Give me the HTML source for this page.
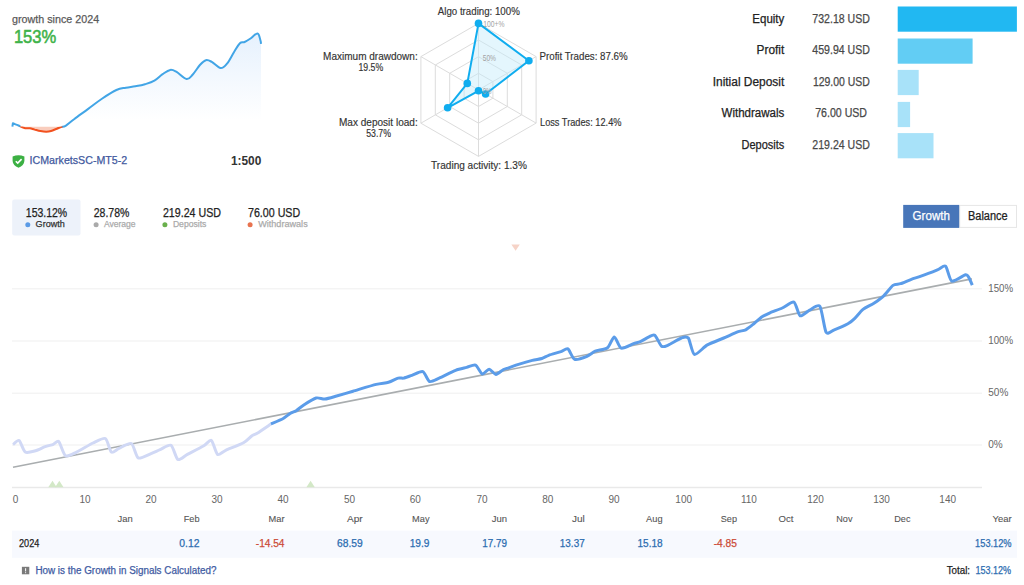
<!DOCTYPE html>
<html><head><meta charset="utf-8"><title>Signal growth</title>
<style>html,body{margin:0;padding:0;background:#fff;width:1024px;height:585px;overflow:hidden}svg{display:block}</style>
</head><body>
<svg width="1024" height="585" viewBox="0 0 1024 585" font-family="&quot;Liberation Sans&quot;, sans-serif">
<defs><linearGradient id="mg" gradientUnits="userSpaceOnUse" x1="0" y1="33" x2="0" y2="120"><stop offset="0" stop-color="#e6f1fd"/><stop offset="1" stop-color="#ffffff"/></linearGradient><clipPath id="redclip"><rect x="19.5" y="126.4" width="43" height="10"/></clipPath><clipPath id="blueclipA"><rect x="0" y="0" width="20.6" height="200"/><rect x="61.5" y="0" width="220" height="200"/></clipPath><clipPath id="fillclip"><rect x="61.5" y="20" width="220" height="106.4"/></clipPath></defs>
<path d="M12.90,123.20 C13.01,123.25 12.76,123.19 13.50,123.50 C14.24,123.81 15.74,124.38 17.00,124.90 C18.26,125.42 19.02,125.81 20.50,126.40 C21.98,126.99 23.51,127.86 25.20,128.20 C26.89,128.54 28.21,128.05 29.90,128.30 C31.59,128.55 32.69,129.10 34.60,129.60 C36.51,130.10 38.39,130.72 40.50,131.10 C42.61,131.48 44.41,131.72 46.30,131.70 C48.19,131.68 49.09,131.54 51.00,131.00 C52.91,130.46 54.99,129.44 56.90,128.70 C58.81,127.96 60.03,127.42 61.60,126.90 C63.17,126.38 63.35,127.19 65.60,125.80 C67.85,124.41 70.03,122.24 74.10,119.20 C78.17,116.16 83.12,112.63 88.20,108.90 C93.28,105.17 97.22,101.90 102.30,98.50 C107.38,95.10 112.15,91.94 116.40,90.00 C120.65,88.06 122.50,88.37 125.90,87.70 C129.30,87.03 131.86,86.93 135.30,86.30 C138.74,85.67 141.56,85.21 145.00,84.20 C148.44,83.19 151.23,82.50 154.40,80.70 C157.57,78.90 159.76,76.14 162.60,74.20 C165.44,72.26 167.68,70.31 170.20,69.90 C172.72,69.49 173.65,70.28 176.60,71.90 C179.55,73.52 183.65,78.49 186.60,78.90 C189.55,79.31 190.57,76.74 193.00,74.20 C195.43,71.66 197.78,67.32 200.10,64.80 C202.42,62.28 203.79,60.72 205.90,60.20 C208.01,59.68 209.15,60.48 211.80,61.90 C214.45,63.32 217.86,67.78 220.60,68.10 C223.34,68.42 224.57,66.60 227.00,63.70 C229.43,60.80 231.78,55.69 234.10,52.00 C236.42,48.31 238.01,45.00 239.90,43.20 C241.79,41.40 242.69,42.85 244.60,42.00 C246.51,41.15 248.18,40.05 250.50,38.50 C252.82,36.95 255.72,33.09 257.50,33.40 C259.28,33.71 259.77,38.33 260.40,40.20 C261.03,42.07 260.89,43.15 261.00,43.80 L261,126.4 L12.3,126.4 Z" fill="url(#mg)" clip-path="url(#fillclip)"/>
<path d="M12.90,123.20 C13.01,123.25 12.76,123.19 13.50,123.50 C14.24,123.81 15.74,124.38 17.00,124.90 C18.26,125.42 19.02,125.81 20.50,126.40 C21.98,126.99 23.51,127.86 25.20,128.20 C26.89,128.54 28.21,128.05 29.90,128.30 C31.59,128.55 32.69,129.10 34.60,129.60 C36.51,130.10 38.39,130.72 40.50,131.10 C42.61,131.48 44.41,131.72 46.30,131.70 C48.19,131.68 49.09,131.54 51.00,131.00 C52.91,130.46 54.99,129.44 56.90,128.70 C58.81,127.96 60.03,127.42 61.60,126.90 C63.17,126.38 63.35,127.19 65.60,125.80 C67.85,124.41 70.03,122.24 74.10,119.20 C78.17,116.16 83.12,112.63 88.20,108.90 C93.28,105.17 97.22,101.90 102.30,98.50 C107.38,95.10 112.15,91.94 116.40,90.00 C120.65,88.06 122.50,88.37 125.90,87.70 C129.30,87.03 131.86,86.93 135.30,86.30 C138.74,85.67 141.56,85.21 145.00,84.20 C148.44,83.19 151.23,82.50 154.40,80.70 C157.57,78.90 159.76,76.14 162.60,74.20 C165.44,72.26 167.68,70.31 170.20,69.90 C172.72,69.49 173.65,70.28 176.60,71.90 C179.55,73.52 183.65,78.49 186.60,78.90 C189.55,79.31 190.57,76.74 193.00,74.20 C195.43,71.66 197.78,67.32 200.10,64.80 C202.42,62.28 203.79,60.72 205.90,60.20 C208.01,59.68 209.15,60.48 211.80,61.90 C214.45,63.32 217.86,67.78 220.60,68.10 C223.34,68.42 224.57,66.60 227.00,63.70 C229.43,60.80 231.78,55.69 234.10,52.00 C236.42,48.31 238.01,45.00 239.90,43.20 C241.79,41.40 242.69,42.85 244.60,42.00 C246.51,41.15 248.18,40.05 250.50,38.50 C252.82,36.95 255.72,33.09 257.50,33.40 C259.28,33.71 259.77,38.33 260.40,40.20 C261.03,42.07 260.89,43.15 261.00,43.80 L261,126.4 L12.3,126.4 Z" fill="#f9cdbd" clip-path="url(#redclip)"/>
<path d="M12.4,126.6 L12.9,123.2 12.90,123.20 C13.01,123.25 12.76,123.19 13.50,123.50 C14.24,123.81 15.74,124.38 17.00,124.90 C18.26,125.42 19.02,125.81 20.50,126.40 C21.98,126.99 23.51,127.86 25.20,128.20 C26.89,128.54 28.21,128.05 29.90,128.30 C31.59,128.55 32.69,129.10 34.60,129.60 C36.51,130.10 38.39,130.72 40.50,131.10 C42.61,131.48 44.41,131.72 46.30,131.70 C48.19,131.68 49.09,131.54 51.00,131.00 C52.91,130.46 54.99,129.44 56.90,128.70 C58.81,127.96 60.03,127.42 61.60,126.90 C63.17,126.38 63.35,127.19 65.60,125.80 C67.85,124.41 70.03,122.24 74.10,119.20 C78.17,116.16 83.12,112.63 88.20,108.90 C93.28,105.17 97.22,101.90 102.30,98.50 C107.38,95.10 112.15,91.94 116.40,90.00 C120.65,88.06 122.50,88.37 125.90,87.70 C129.30,87.03 131.86,86.93 135.30,86.30 C138.74,85.67 141.56,85.21 145.00,84.20 C148.44,83.19 151.23,82.50 154.40,80.70 C157.57,78.90 159.76,76.14 162.60,74.20 C165.44,72.26 167.68,70.31 170.20,69.90 C172.72,69.49 173.65,70.28 176.60,71.90 C179.55,73.52 183.65,78.49 186.60,78.90 C189.55,79.31 190.57,76.74 193.00,74.20 C195.43,71.66 197.78,67.32 200.10,64.80 C202.42,62.28 203.79,60.72 205.90,60.20 C208.01,59.68 209.15,60.48 211.80,61.90 C214.45,63.32 217.86,67.78 220.60,68.10 C223.34,68.42 224.57,66.60 227.00,63.70 C229.43,60.80 231.78,55.69 234.10,52.00 C236.42,48.31 238.01,45.00 239.90,43.20 C241.79,41.40 242.69,42.85 244.60,42.00 C246.51,41.15 248.18,40.05 250.50,38.50 C252.82,36.95 255.72,33.09 257.50,33.40 C259.28,33.71 259.77,38.33 260.40,40.20 C261.03,42.07 260.89,43.15 261.00,43.80" fill="none" stroke="#42a5e6" stroke-width="2" clip-path="url(#blueclipA)" stroke-linejoin="round"/>
<path d="M12.90,123.20 C13.01,123.25 12.76,123.19 13.50,123.50 C14.24,123.81 15.74,124.38 17.00,124.90 C18.26,125.42 19.02,125.81 20.50,126.40 C21.98,126.99 23.51,127.86 25.20,128.20 C26.89,128.54 28.21,128.05 29.90,128.30 C31.59,128.55 32.69,129.10 34.60,129.60 C36.51,130.10 38.39,130.72 40.50,131.10 C42.61,131.48 44.41,131.72 46.30,131.70 C48.19,131.68 49.09,131.54 51.00,131.00 C52.91,130.46 54.99,129.44 56.90,128.70 C58.81,127.96 60.03,127.42 61.60,126.90 C63.17,126.38 63.35,127.19 65.60,125.80 C67.85,124.41 70.03,122.24 74.10,119.20 C78.17,116.16 83.12,112.63 88.20,108.90 C93.28,105.17 97.22,101.90 102.30,98.50 C107.38,95.10 112.15,91.94 116.40,90.00 C120.65,88.06 122.50,88.37 125.90,87.70 C129.30,87.03 131.86,86.93 135.30,86.30 C138.74,85.67 141.56,85.21 145.00,84.20 C148.44,83.19 151.23,82.50 154.40,80.70 C157.57,78.90 159.76,76.14 162.60,74.20 C165.44,72.26 167.68,70.31 170.20,69.90 C172.72,69.49 173.65,70.28 176.60,71.90 C179.55,73.52 183.65,78.49 186.60,78.90 C189.55,79.31 190.57,76.74 193.00,74.20 C195.43,71.66 197.78,67.32 200.10,64.80 C202.42,62.28 203.79,60.72 205.90,60.20 C208.01,59.68 209.15,60.48 211.80,61.90 C214.45,63.32 217.86,67.78 220.60,68.10 C223.34,68.42 224.57,66.60 227.00,63.70 C229.43,60.80 231.78,55.69 234.10,52.00 C236.42,48.31 238.01,45.00 239.90,43.20 C241.79,41.40 242.69,42.85 244.60,42.00 C246.51,41.15 248.18,40.05 250.50,38.50 C252.82,36.95 255.72,33.09 257.50,33.40 C259.28,33.71 259.77,38.33 260.40,40.20 C261.03,42.07 260.89,43.15 261.00,43.80" fill="none" stroke="#f2511f" stroke-width="2" clip-path="url(#redclip)"/>
<text x="12.1" y="22.8" font-size="11" fill="#5a5a5a" text-anchor="start" font-weight="normal" textLength="87" lengthAdjust="spacingAndGlyphs" stroke="#5a5a5a" stroke-width="0.25">growth since 2024</text>
<text x="13.9" y="43.1" font-size="18" fill="#3fb34a" text-anchor="start" font-weight="normal" textLength="42.4" lengthAdjust="spacingAndGlyphs" stroke="#3fb34a" stroke-width="0.55">153%</text>
<path d="M12.6,156.4 Q18.5,154.0 24.4,156.4 L24.4,161 Q24,165.6 18.5,167.8 Q13,165.6 12.6,161 Z" fill="#3cb043"/>
<path d="M15.8,161.2 L17.7,163.1 L21.6,159.1" fill="none" stroke="#fff" stroke-width="1.6"/>
<text x="29.6" y="164.1" font-size="11" fill="#41599e" text-anchor="start" font-weight="normal" textLength="97.6" lengthAdjust="spacingAndGlyphs" stroke="#41599e" stroke-width="0.25">ICMarketsSC-MT5-2</text>
<text x="230.9" y="164.9" font-size="12" fill="#333" text-anchor="start" font-weight="bold" textLength="30.4" lengthAdjust="spacingAndGlyphs">1:500</text>
<polygon points="478.5,73.3 492.9,81.6 492.9,98.2 478.5,106.5 464.1,98.2 464.1,81.6" fill="none" stroke="#dcdcdc" stroke-width="1"/>
<polygon points="478.5,56.7 507.3,73.3 507.3,106.5 478.5,123.2 449.7,106.5 449.7,73.3" fill="none" stroke="#dcdcdc" stroke-width="1"/>
<polygon points="478.5,40.0 521.7,65.0 521.7,114.8 478.5,139.8 435.3,114.8 435.3,65.0" fill="none" stroke="#dcdcdc" stroke-width="1"/>
<polygon points="478.5,23.4 536.1,56.6 536.1,123.1 478.5,156.4 420.9,123.2 420.9,56.6" fill="none" stroke="#dcdcdc" stroke-width="1"/>
<line x1="478.5" y1="89.9" x2="478.5" y2="23.4" stroke="#dcdcdc" stroke-width="1"/>
<line x1="478.5" y1="89.9" x2="536.1" y2="56.6" stroke="#dcdcdc" stroke-width="1"/>
<line x1="478.5" y1="89.9" x2="536.1" y2="123.1" stroke="#dcdcdc" stroke-width="1"/>
<line x1="478.5" y1="89.9" x2="478.5" y2="156.4" stroke="#dcdcdc" stroke-width="1"/>
<line x1="478.5" y1="89.9" x2="420.9" y2="123.2" stroke="#dcdcdc" stroke-width="1"/>
<line x1="478.5" y1="89.9" x2="420.9" y2="56.6" stroke="#dcdcdc" stroke-width="1"/>
<polygon points="478.5,23.4 528.9,60.8 485.6,94.0 478.5,90.8 447.6,107.8 467.3,83.4" fill="#c4ebfa" fill-opacity="0.45" stroke="#10adef" stroke-width="2" stroke-linejoin="round"/>
<circle cx="478.5" cy="23.4" r="3.8" fill="#10adef"/>
<circle cx="528.9" cy="60.8" r="3.8" fill="#10adef"/>
<circle cx="485.6" cy="94.0" r="3.8" fill="#10adef"/>
<circle cx="478.5" cy="90.8" r="3.8" fill="#10adef"/>
<circle cx="447.6" cy="107.8" r="3.8" fill="#10adef"/>
<circle cx="467.3" cy="83.4" r="3.8" fill="#10adef"/>
<text x="483.3" y="27.1" font-size="8.6" fill="#a3a3a3" text-anchor="start" font-weight="normal" textLength="21.3" lengthAdjust="spacingAndGlyphs">100+%</text>
<text x="482.7" y="60.8" font-size="8.6" fill="#a3a3a3" text-anchor="start" font-weight="normal" textLength="13.3" lengthAdjust="spacingAndGlyphs">50%</text>
<text x="482.7" y="94.1" font-size="8.6" fill="#a3a3a3" text-anchor="start" font-weight="normal" textLength="8.9" lengthAdjust="spacingAndGlyphs">0%</text>
<text x="437.8" y="15" font-size="10" fill="#333" text-anchor="start" font-weight="normal" textLength="82" lengthAdjust="spacingAndGlyphs" stroke="#333" stroke-width="0.15">Algo trading: 100%</text>
<text x="539.5" y="59.6" font-size="10" fill="#333" text-anchor="start" font-weight="normal" textLength="88.2" lengthAdjust="spacingAndGlyphs" stroke="#333" stroke-width="0.15">Profit Trades: 87.6%</text>
<text x="540" y="126.1" font-size="10" fill="#333" text-anchor="start" font-weight="normal" textLength="81.5" lengthAdjust="spacingAndGlyphs" stroke="#333" stroke-width="0.15">Loss Trades: 12.4%</text>
<text x="431.1" y="168.5" font-size="10" fill="#333" text-anchor="start" font-weight="normal" textLength="95.8" lengthAdjust="spacingAndGlyphs" stroke="#333" stroke-width="0.15">Trading activity: 1.3%</text>
<text x="323.1" y="60" font-size="10" fill="#333" text-anchor="start" font-weight="normal" textLength="94.6" lengthAdjust="spacingAndGlyphs" stroke="#333" stroke-width="0.15">Maximum drawdown:</text>
<text x="358.5" y="71" font-size="10" fill="#333" text-anchor="start" font-weight="normal" textLength="24.7" lengthAdjust="spacingAndGlyphs" stroke="#333" stroke-width="0.15">19.5%</text>
<text x="339" y="126.2" font-size="10" fill="#333" text-anchor="start" font-weight="normal" textLength="78.7" lengthAdjust="spacingAndGlyphs" stroke="#333" stroke-width="0.15">Max deposit load:</text>
<text x="366.2" y="137.3" font-size="10" fill="#333" text-anchor="start" font-weight="normal" textLength="24.8" lengthAdjust="spacingAndGlyphs" stroke="#333" stroke-width="0.15">53.7%</text>
<text x="752.3" y="22.8" font-size="12" fill="#222" text-anchor="start" font-weight="normal" textLength="32.0" lengthAdjust="spacingAndGlyphs" stroke="#222" stroke-width="0.25">Equity</text>
<text x="812.3" y="22.8" font-size="12" fill="#484848" text-anchor="start" font-weight="normal" textLength="57.6" lengthAdjust="spacingAndGlyphs" stroke="#484848" stroke-width="0.25">732.18 USD</text>
<rect x="897.7" y="6.5" width="119.2" height="25.2" fill="#21b8f2"/>
<text x="756.6" y="53.8" font-size="12" fill="#222" text-anchor="start" font-weight="normal" textLength="27.7" lengthAdjust="spacingAndGlyphs" stroke="#222" stroke-width="0.25">Profit</text>
<text x="812.3" y="53.8" font-size="12" fill="#484848" text-anchor="start" font-weight="normal" textLength="57.6" lengthAdjust="spacingAndGlyphs" stroke="#484848" stroke-width="0.25">459.94 USD</text>
<rect x="897.7" y="38.5" width="74.9" height="25.2" fill="#62cdf4"/>
<text x="712.7" y="85.9" font-size="12" fill="#222" text-anchor="start" font-weight="normal" textLength="71.6" lengthAdjust="spacingAndGlyphs" stroke="#222" stroke-width="0.25">Initial Deposit</text>
<text x="812.9" y="85.9" font-size="12" fill="#484848" text-anchor="start" font-weight="normal" textLength="57.0" lengthAdjust="spacingAndGlyphs" stroke="#484848" stroke-width="0.25">129.00 USD</text>
<rect x="897.7" y="69.9" width="21.0" height="25.2" fill="#a8e2f9"/>
<text x="721.5" y="116.9" font-size="12" fill="#222" text-anchor="start" font-weight="normal" textLength="62.8" lengthAdjust="spacingAndGlyphs" stroke="#222" stroke-width="0.25">Withdrawals</text>
<text x="815.2" y="116.9" font-size="12" fill="#484848" text-anchor="start" font-weight="normal" textLength="51.8" lengthAdjust="spacingAndGlyphs" stroke="#484848" stroke-width="0.25">76.00 USD</text>
<rect x="897.7" y="101.9" width="12.4" height="25.2" fill="#a8e2f9"/>
<text x="741.6" y="148.9" font-size="12" fill="#222" text-anchor="start" font-weight="normal" textLength="42.7" lengthAdjust="spacingAndGlyphs" stroke="#222" stroke-width="0.25">Deposits</text>
<text x="812.3" y="148.9" font-size="12" fill="#484848" text-anchor="start" font-weight="normal" textLength="57.6" lengthAdjust="spacingAndGlyphs" stroke="#484848" stroke-width="0.25">219.24 USD</text>
<rect x="897.7" y="133.1" width="35.8" height="25.2" fill="#a8e2f9"/>
<rect x="12.2" y="199.4" width="68.3" height="36.2" rx="2" fill="#edf2fa"/>
<text x="25.8" y="216.9" font-size="12.3" fill="#222" text-anchor="start" font-weight="normal" textLength="41.4" lengthAdjust="spacingAndGlyphs" stroke="#222" stroke-width="0.25">153.12%</text>
<circle cx="27.8" cy="224.8" r="2.5" fill="#5b9be6"/>
<text x="35.6" y="227.4" font-size="9.5" fill="#333" text-anchor="start" font-weight="normal" textLength="29.2" lengthAdjust="spacingAndGlyphs" stroke="#333" stroke-width="0.25">Growth</text>
<text x="93.75" y="216.9" font-size="12.3" fill="#222" text-anchor="start" font-weight="normal" textLength="35.6" lengthAdjust="spacingAndGlyphs" stroke="#222" stroke-width="0.25">28.78%</text>
<circle cx="96.1" cy="224.8" r="2.5" fill="#aaaaaa"/>
<text x="103.9" y="227.4" font-size="9.5" fill="#aaa" text-anchor="start" font-weight="normal" textLength="31.7" lengthAdjust="spacingAndGlyphs" stroke="#aaa" stroke-width="0.25">Average</text>
<text x="162.9" y="216.9" font-size="12.3" fill="#222" text-anchor="start" font-weight="normal" textLength="58.1" lengthAdjust="spacingAndGlyphs" stroke="#222" stroke-width="0.25">219.24 USD</text>
<circle cx="164.9" cy="224.8" r="2.5" fill="#6ab04c"/>
<text x="172.9" y="227.4" font-size="9.5" fill="#aaa" text-anchor="start" font-weight="normal" textLength="33.5" lengthAdjust="spacingAndGlyphs" stroke="#aaa" stroke-width="0.25">Deposits</text>
<text x="248" y="216.9" font-size="12.3" fill="#222" text-anchor="start" font-weight="normal" textLength="52.2" lengthAdjust="spacingAndGlyphs" stroke="#222" stroke-width="0.25">76.00 USD</text>
<circle cx="250.1" cy="224.8" r="2.5" fill="#e8734f"/>
<text x="258.2" y="227.4" font-size="9.5" fill="#aaa" text-anchor="start" font-weight="normal" textLength="49.5" lengthAdjust="spacingAndGlyphs" stroke="#aaa" stroke-width="0.25">Withdrawals</text>
<rect x="959.7" y="205.4" width="56.8" height="22" fill="#fff" stroke="#e6e6e6" stroke-width="1"/>
<rect x="903.2" y="204.9" width="56" height="23" fill="#4876b9"/>
<text x="912.6" y="220" font-size="12" fill="#fff" text-anchor="start" font-weight="normal" textLength="37.4" lengthAdjust="spacingAndGlyphs" stroke="#fff" stroke-width="0.25">Growth</text>
<text x="968" y="220" font-size="12" fill="#222" text-anchor="start" font-weight="normal" textLength="39.7" lengthAdjust="spacingAndGlyphs" stroke="#222" stroke-width="0.25">Balance</text>
<line x1="12" y1="288.8" x2="982" y2="288.8" stroke="#efefef" stroke-width="1"/>
<line x1="12" y1="341" x2="982" y2="341" stroke="#efefef" stroke-width="1"/>
<line x1="12" y1="393.2" x2="982" y2="393.2" stroke="#efefef" stroke-width="1"/>
<line x1="12" y1="445" x2="982" y2="445" stroke="#efefef" stroke-width="1"/>
<line x1="12" y1="487.5" x2="982" y2="487.5" stroke="#e9e9e9" stroke-width="1.3"/>
<text x="988.3" y="291.6" font-size="10" fill="#666" text-anchor="start" font-weight="normal" textLength="24.8" lengthAdjust="spacingAndGlyphs">150%</text>
<text x="988.3" y="343.8" font-size="10" fill="#666" text-anchor="start" font-weight="normal" textLength="24.8" lengthAdjust="spacingAndGlyphs">100%</text>
<text x="988.3" y="396.0" font-size="10" fill="#666" text-anchor="start" font-weight="normal">50%</text>
<text x="988.3" y="447.8" font-size="10" fill="#666" text-anchor="start" font-weight="normal">0%</text>
<text x="15.6" y="502.9" font-size="10" fill="#666" text-anchor="middle" font-weight="normal">0</text>
<text x="85" y="502.9" font-size="10" fill="#666" text-anchor="middle" font-weight="normal">10</text>
<text x="151" y="502.9" font-size="10" fill="#666" text-anchor="middle" font-weight="normal">20</text>
<text x="217.1" y="502.9" font-size="10" fill="#666" text-anchor="middle" font-weight="normal">30</text>
<text x="283.1" y="502.9" font-size="10" fill="#666" text-anchor="middle" font-weight="normal">40</text>
<text x="349.5" y="502.9" font-size="10" fill="#666" text-anchor="middle" font-weight="normal">50</text>
<text x="415.3" y="502.9" font-size="10" fill="#666" text-anchor="middle" font-weight="normal">60</text>
<text x="482.1" y="502.9" font-size="10" fill="#666" text-anchor="middle" font-weight="normal">70</text>
<text x="547.8" y="502.9" font-size="10" fill="#666" text-anchor="middle" font-weight="normal">80</text>
<text x="614" y="502.9" font-size="10" fill="#666" text-anchor="middle" font-weight="normal">90</text>
<text x="683.7" y="502.9" font-size="10" fill="#666" text-anchor="middle" font-weight="normal">100</text>
<text x="748.9" y="502.9" font-size="10" fill="#666" text-anchor="middle" font-weight="normal">110</text>
<text x="815.5" y="502.9" font-size="10" fill="#666" text-anchor="middle" font-weight="normal">120</text>
<text x="881.6" y="502.9" font-size="10" fill="#666" text-anchor="middle" font-weight="normal">130</text>
<text x="947.7" y="502.9" font-size="10" fill="#666" text-anchor="middle" font-weight="normal">140</text>
<polygon points="48.3,487.2 56.7,487.2 52.5,480.7" fill="#d3e8c7"/>
<polygon points="55.099999999999994,487.2 63.5,487.2 59.3,480.7" fill="#d3e8c7"/>
<polygon points="306.40000000000003,487.2 314.8,487.2 310.6,480.7" fill="#d3e8c7"/>
<polygon points="511.4,244.6 519.8,244.6 515.6,250.8" fill="#f6d3c7"/>
<line x1="13" y1="467.2" x2="971.9" y2="278.9" stroke="#a9adaf" stroke-width="1.6"/>
<path d="M13.00,444.60 C13.73,444.11 17.62,439.60 19.10,440.50 C20.58,441.40 23.33,450.86 25.30,452.10 C27.27,453.34 33.12,451.45 35.50,450.80 C37.88,450.15 42.96,447.48 45.10,446.70 C47.24,445.92 51.66,444.91 53.30,444.30 C54.94,443.69 57.32,440.22 58.80,441.60 C60.28,442.98 63.46,454.54 65.60,455.80 C67.74,457.06 73.31,453.64 76.60,452.10 C79.89,450.56 89.56,444.63 93.00,443.00 C96.44,441.37 103.09,437.41 105.30,438.50 C107.51,439.59 109.76,450.91 111.40,452.10 C113.04,453.29 116.60,449.43 119.00,448.40 C121.40,447.37 129.10,442.36 131.40,443.50 C133.70,444.64 135.91,456.66 138.20,457.90 C140.49,459.14 147.87,454.80 150.50,453.80 C153.13,452.80 157.64,450.62 160.10,449.60 C162.56,448.58 168.86,444.11 171.00,445.30 C173.14,446.49 175.93,458.41 177.90,459.50 C179.87,460.59 184.29,456.04 187.40,454.40 C190.51,452.76 200.92,447.48 203.80,445.80 C206.68,444.12 209.76,439.37 211.40,440.40 C213.04,441.43 215.78,453.21 217.50,454.40 C219.22,455.59 222.58,451.69 225.70,450.30 C228.82,448.91 240.38,444.52 243.50,442.80 C246.62,441.08 250.06,437.15 251.70,436.00 C253.34,434.85 254.90,434.64 257.20,433.20 C259.50,431.76 269.26,425.10 270.90,424.00" fill="none" stroke="#d0d8f5" stroke-width="3" stroke-linejoin="round" stroke-linecap="butt"/>
<path d="M270.90,424.00 C272.38,423.34 280.90,419.76 283.20,418.50 C285.50,417.24 288.54,414.44 290.10,413.50 C291.66,412.56 294.56,411.73 296.20,410.70 C297.84,409.67 301.41,406.42 303.80,404.90 C306.19,403.38 313.57,398.71 316.10,398.00 C318.63,397.29 322.44,399.24 324.90,399.00 C327.36,398.76 333.23,396.94 336.60,396.00 C339.97,395.06 348.25,392.59 353.00,391.20 C357.75,389.81 371.94,385.47 376.20,384.40 C380.46,383.33 385.86,383.06 388.50,382.30 C391.14,381.54 396.38,378.60 398.20,378.10 C400.02,377.60 402.06,378.44 403.70,378.10 C405.34,377.76 409.61,376.08 411.90,375.30 C414.19,374.52 420.68,370.86 422.80,371.60 C424.92,372.34 427.63,380.72 429.60,381.50 C431.57,382.28 436.08,379.44 439.20,378.10 C442.32,376.76 452.31,371.58 455.60,370.30 C458.89,369.02 464.21,368.02 466.60,367.40 C468.99,366.78 473.62,364.31 475.50,365.10 C477.38,365.89 480.67,373.51 482.30,374.00 C483.93,374.49 487.46,369.15 489.10,369.20 C490.74,369.25 494.27,374.36 496.00,374.40 C497.73,374.44 501.95,370.29 503.50,369.50 C505.05,368.71 507.10,368.41 508.90,367.80 C510.70,367.19 515.69,365.29 518.50,364.40 C521.31,363.51 529.49,361.11 532.30,360.40 C535.11,359.69 539.93,359.11 541.90,358.50 C543.87,357.89 546.41,356.13 548.70,355.30 C550.99,354.47 558.70,352.37 561.00,351.60 C563.30,350.83 566.26,347.96 567.90,348.90 C569.54,349.84 572.41,358.50 574.70,359.40 C576.99,360.30 584.54,357.38 587.00,356.40 C589.46,355.42 592.74,352.23 595.20,351.20 C597.66,350.17 605.21,349.52 607.50,347.80 C609.79,346.08 612.66,336.85 614.30,336.90 C615.94,336.95 618.90,347.38 621.20,348.20 C623.50,349.02 631.21,344.48 633.50,343.70 C635.79,342.92 638.50,342.49 640.30,341.70 C642.10,340.91 646.76,337.87 648.50,337.10 C650.24,336.33 653.23,334.21 654.80,335.30 C656.37,336.39 660.04,345.00 661.60,346.20 C663.16,347.40 665.42,346.28 667.80,345.30 C670.18,344.32 678.94,338.88 681.40,338.00 C683.86,337.12 686.74,336.03 688.30,338.00 C689.86,339.97 692.11,353.57 694.40,354.40 C696.69,355.23 703.87,346.87 707.40,344.90 C710.93,342.93 720.19,339.56 723.80,338.00 C727.41,336.44 734.87,332.88 737.50,331.90 C740.13,330.92 743.73,330.78 745.70,329.80 C747.67,328.82 751.93,325.26 753.90,323.70 C755.87,322.14 760.17,318.11 762.10,316.80 C764.03,315.49 767.58,313.86 770.00,312.80 C772.42,311.74 779.43,309.28 782.30,308.00 C785.17,306.72 791.76,301.16 793.90,302.10 C796.04,303.04 798.22,314.84 800.10,315.80 C801.98,316.76 807.22,311.24 809.60,310.10 C811.98,308.96 817.92,303.65 819.90,306.30 C821.88,308.95 824.37,329.37 826.10,332.20 C827.83,335.03 831.68,330.91 834.30,329.90 C836.92,328.89 845.44,325.19 847.90,323.80 C850.36,322.41 852.99,320.03 854.80,318.30 C856.61,316.57 860.71,311.21 863.00,309.40 C865.29,307.59 871.44,304.80 873.90,303.20 C876.36,301.60 881.21,298.24 883.50,296.10 C885.79,293.96 890.96,286.89 893.00,285.40 C895.04,283.91 898.29,284.43 900.50,283.70 C902.71,282.97 908.94,280.20 911.40,279.30 C913.86,278.40 917.88,277.34 921.00,276.20 C924.12,275.06 934.45,271.00 937.40,269.80 C940.35,268.60 943.87,264.86 945.60,266.20 C947.33,267.54 949.41,279.97 951.80,281.00 C954.19,282.03 963.45,275.21 965.50,274.80 C967.55,274.39 968.08,276.36 968.90,277.60 C969.72,278.84 971.89,284.20 972.30,285.10" fill="none" stroke="#5b9ce9" stroke-width="3" stroke-linejoin="round" stroke-linecap="butt"/>
<text x="132.7" y="522.0" font-size="9.8" fill="#555" text-anchor="end" font-weight="normal" textLength="15.2" lengthAdjust="spacingAndGlyphs" stroke="#555" stroke-width="0.1">Jan</text>
<text x="199.5" y="522.0" font-size="9.8" fill="#555" text-anchor="end" font-weight="normal" textLength="15.8" lengthAdjust="spacingAndGlyphs" stroke="#555" stroke-width="0.1">Feb</text>
<text x="284.5" y="522.0" font-size="9.8" fill="#555" text-anchor="end" font-weight="normal" textLength="16" lengthAdjust="spacingAndGlyphs" stroke="#555" stroke-width="0.1">Mar</text>
<text x="362.7" y="522.0" font-size="9.8" fill="#555" text-anchor="end" font-weight="normal" textLength="15.7" lengthAdjust="spacingAndGlyphs" stroke="#555" stroke-width="0.1">Apr</text>
<text x="429.5" y="522.0" font-size="9.8" fill="#555" text-anchor="end" font-weight="normal" textLength="17.4" lengthAdjust="spacingAndGlyphs" stroke="#555" stroke-width="0.1">May</text>
<text x="507.0" y="522.0" font-size="9.8" fill="#555" text-anchor="end" font-weight="normal" textLength="15.3" lengthAdjust="spacingAndGlyphs" stroke="#555" stroke-width="0.1">Jun</text>
<text x="584.7" y="522.0" font-size="9.8" fill="#555" text-anchor="end" font-weight="normal" textLength="12.8" lengthAdjust="spacingAndGlyphs" stroke="#555" stroke-width="0.1">Jul</text>
<text x="662.6" y="522.0" font-size="9.8" fill="#555" text-anchor="end" font-weight="normal" textLength="16.5" lengthAdjust="spacingAndGlyphs" stroke="#555" stroke-width="0.1">Aug</text>
<text x="737.0" y="522.0" font-size="9.8" fill="#555" text-anchor="end" font-weight="normal" textLength="16.2" lengthAdjust="spacingAndGlyphs" stroke="#555" stroke-width="0.1">Sep</text>
<text x="793.5" y="522.0" font-size="9.8" fill="#555" text-anchor="end" font-weight="normal" textLength="14.9" lengthAdjust="spacingAndGlyphs" stroke="#555" stroke-width="0.1">Oct</text>
<text x="852.5" y="522.0" font-size="9.8" fill="#555" text-anchor="end" font-weight="normal" textLength="16.2" lengthAdjust="spacingAndGlyphs" stroke="#555" stroke-width="0.1">Nov</text>
<text x="910.5" y="522.0" font-size="9.8" fill="#555" text-anchor="end" font-weight="normal" textLength="16.2" lengthAdjust="spacingAndGlyphs" stroke="#555" stroke-width="0.1">Dec</text>
<text x="1011.6" y="522.0" font-size="9.8" fill="#555" text-anchor="end" font-weight="normal" textLength="19.1" lengthAdjust="spacingAndGlyphs" stroke="#555" stroke-width="0.1">Year</text>
<rect x="11.9" y="530.6" width="1005.1" height="27.2" fill="#f7f9fe"/>
<text x="19" y="547.2" font-size="10.5" fill="#222" text-anchor="start" font-weight="normal" textLength="20.3" lengthAdjust="spacingAndGlyphs" stroke="#222" stroke-width="0.25">2024</text>
<text x="199.5" y="547.2" font-size="10.5" fill="#2b6cb0" text-anchor="end" font-weight="normal" textLength="20.2" lengthAdjust="spacingAndGlyphs" stroke="#2b6cb0" stroke-width="0.25">0.12</text>
<text x="284.5" y="547.2" font-size="10.5" fill="#cc4b37" text-anchor="end" font-weight="normal" textLength="28.7" lengthAdjust="spacingAndGlyphs" stroke="#cc4b37" stroke-width="0.25">-14.54</text>
<text x="362.7" y="547.2" font-size="10.5" fill="#2b6cb0" text-anchor="end" font-weight="normal" textLength="25.7" lengthAdjust="spacingAndGlyphs" stroke="#2b6cb0" stroke-width="0.25">68.59</text>
<text x="429.5" y="547.2" font-size="10.5" fill="#2b6cb0" text-anchor="end" font-weight="normal" textLength="19.8" lengthAdjust="spacingAndGlyphs" stroke="#2b6cb0" stroke-width="0.25">19.9</text>
<text x="507.0" y="547.2" font-size="10.5" fill="#2b6cb0" text-anchor="end" font-weight="normal" textLength="24.8" lengthAdjust="spacingAndGlyphs" stroke="#2b6cb0" stroke-width="0.25">17.79</text>
<text x="584.7" y="547.2" font-size="10.5" fill="#2b6cb0" text-anchor="end" font-weight="normal" textLength="24.900000000000002" lengthAdjust="spacingAndGlyphs" stroke="#2b6cb0" stroke-width="0.25">13.37</text>
<text x="662.6" y="547.2" font-size="10.5" fill="#2b6cb0" text-anchor="end" font-weight="normal" textLength="25.1" lengthAdjust="spacingAndGlyphs" stroke="#2b6cb0" stroke-width="0.25">15.18</text>
<text x="737.0" y="547.2" font-size="10.5" fill="#cc4b37" text-anchor="end" font-weight="normal" textLength="23.3" lengthAdjust="spacingAndGlyphs" stroke="#cc4b37" stroke-width="0.25">-4.85</text>
<text x="1011.6" y="547.2" font-size="10.5" fill="#2b6cb0" text-anchor="end" font-weight="normal" textLength="36.5" lengthAdjust="spacingAndGlyphs" stroke="#2b6cb0" stroke-width="0.25">153.12%</text>
<rect x="21.9" y="566.8" width="7.4" height="7.5" fill="#7a7a7a"/>
<rect x="25.1" y="568.2" width="1" height="3.2" fill="#fff"/><rect x="25.1" y="572.2" width="1" height="1" fill="#fff"/>
<text x="35.4" y="574.4" font-size="10" fill="#3f5ca3" text-anchor="start" font-weight="normal" textLength="181" lengthAdjust="spacingAndGlyphs" stroke="#3f5ca3" stroke-width="0.25">How is the Growth in Signals Calculated?</text>
<text x="946.7" y="574" font-size="10.5" fill="#222" text-anchor="start" font-weight="normal" textLength="23.4" lengthAdjust="spacingAndGlyphs" stroke="#222" stroke-width="0.25">Total:</text>
<text x="1011.1" y="574" font-size="10.5" fill="#2b6cb0" text-anchor="end" font-weight="normal" textLength="35.7" lengthAdjust="spacingAndGlyphs" stroke="#2b6cb0" stroke-width="0.25">153.12%</text>
</svg>
</body></html>
